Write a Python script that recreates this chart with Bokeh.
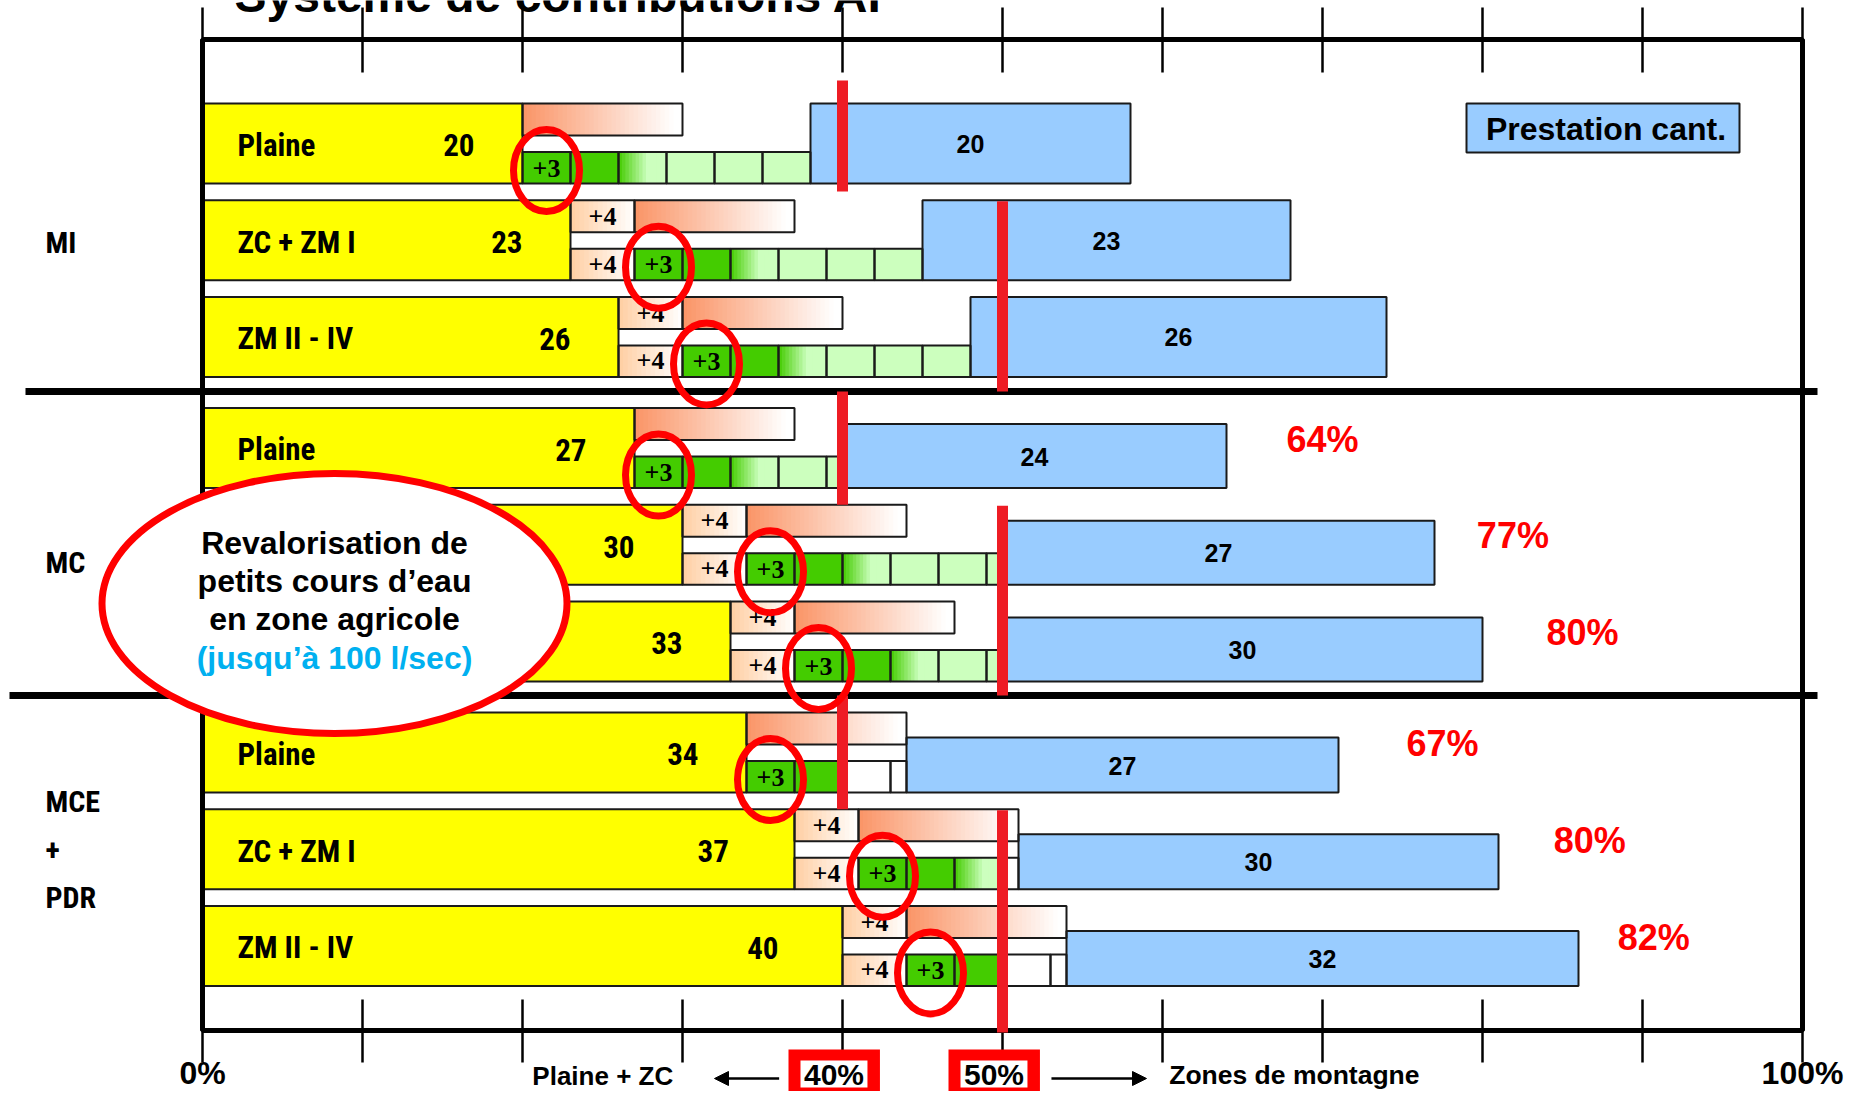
import subprocess
from bokeh.plotting import figure
from bokeh.models import Range1d, Arrow, NormalHead
from bokeh.core.properties import value
from bokeh.embed import file_html
from bokeh.resources import INLINE

# ------------------------------------------------------------------ data
title = "Système de contributions AI"
group_label_lines = [["MI"], ["MC"], ["MCE", "+", "PDR"]]
row_group = [0, 0, 0, 1, 1, 1, 2, 2, 2]
row_zone = ["Plaine", "ZC + ZM I", "ZM II - IV",
            "Plaine", "ZC + ZM I", "ZM II - IV",
            "Plaine", "ZC + ZM I", "ZM II - IV"]
base_contrib = [20, 23, 26, 27, 30, 33, 34, 37, 40]
zone_bonus = [0, 4, 4, 0, 4, 4, 0, 4, 4]
river_bonus = [3, 3, 3, 3, 3, 3, 3, 3, 3]
extra_range = [10, 10, 10, 10, 10, 10, 10, 10, 10]
green_end = [38, 45, 48, 40, 50, 50, 40, 50, 50]
cant_start = [38, 45, 48, 40, 50, 50, 44, 51, 54]
cant_value = [20, 23, 26, 24, 27, 30, 27, 30, 32]
cant_pct = ["", "", "", "64%", "77%", "80%", "67%", "80%", "82%"]
thresholds = [40, 50]
threshold_sides = ["Plaine + ZC", "Zones de montagne"]
x_ticks = [0, 10, 20, 30, 40, 50, 60, 70, 80, 90, 100]
x_tick_labels = ["0%", "", "", "", "", "", "", "", "", "", "100%"]
legend_label = "Prestation cant."
note_lines = ["Revalorisation de", "petits cours d\u2019eau", "en zone agricole"]
note_last = "(jusqu\u2019\u00e0 100 l/sec)"

# ------------------------------------------------------------------ fonts
def font_families():
    try:
        out = subprocess.run(["fc-list", ":", "family"], capture_output=True,
                             text=True, timeout=20).stdout
    except Exception:
        return set()
    fams = set()
    for line in out.splitlines():
        for f in line.split(","):
            fams.add(f.strip().lower())
    return fams

FAMS = font_families()
SANS = "Liberation Sans"
SERIF = "Liberation Serif"
NARROW, NSCALE = SANS, 0.84
for cand, sc in [("Liberation Sans Narrow", 1.0), ("Arial Narrow", 1.0),
                 ("Roboto Condensed", 1.0), ("DejaVu Sans Condensed", 0.86)]:
    if cand.lower() in FAMS:
        NARROW, NSCALE = cand, sc
        break

# ------------------------------------------------------------------ layout / style
W, H = 1845, 1091
X0, PPU = 202.0, 16.0


def ux(px):
    return (px - X0) / PPU


YELLOW = "#FFFF00"
BLUE = "#99CCFF"
DKGREEN = (68, 204, 0)
LTGREEN = (204, 255, 190)
SALMON = (250, 148, 102)
PEACH = (255, 206, 162)
WHITE = (255, 255, 255)
RED_LINE = "#EE1C24"
RED = "#FF0000"
CYAN = "#00B0F0"
OUT = "#1a1a1a"

GROUP_TOP = [103.0, 407.5, 712.0]
ROW_STEP = 96.7
ROW_H = 80.0
TOP_H = 32.0
BOT_Y0 = 48.5
BLUE_OFF = [0.0, 16.0, 25.0]
SEP_Y = [391.0, 695.0]
SEP_X0 = [25.0, 9.0]
SEP_X1 = 1817.0
FRAME_T, FRAME_B = 39.0, 1030.0
value_pad = [3, 3, 3, 3, 3, 3, 3, 4.1, 4.0]
pct_dx = [0, 0, 0, 6.0, 4.9, 6.25, 6.5, 5.7, 4.7]
group_label_base = [[252.7], [572.6], [811.6, 859.3, 907.0]]

row_top = []
for i, g in enumerate(row_group):
    r = i - row_group.index(g)
    row_top.append(GROUP_TOP[g] + r * ROW_STEP)


def hexc(c):
    return "#%02x%02x%02x" % tuple(int(round(v)) for v in c)


def mix(c0, c1, t):
    return hexc(tuple(a + (b - a) * t for a, b in zip(c0, c1)))


p = figure(width=W, height=H,
           x_range=Range1d(ux(0), ux(W)), y_range=Range1d(H, 0),
           output_backend="svg", toolbar_location=None, min_border=0,
           x_axis_type=None, y_axis_type=None, outline_line_color=None,
           background_fill_color="white", border_fill_color="white")
p.grid.visible = False

solid = dict(left=[], right=[], top=[], bottom=[], color=[])
strip = dict(left=[], right=[], top=[], bottom=[], color=[])
outl = dict(left=[], right=[], top=[], bottom=[])


def outline(l, r, t, b):
    outl["left"].append(l); outl["right"].append(r)
    outl["top"].append(t); outl["bottom"].append(b)


def box(l, r, t, b, color):
    solid["left"].append(l); solid["right"].append(r)
    solid["top"].append(t); solid["bottom"].append(b)
    solid["color"].append(color)
    outline(l, r, t, b)


def gradbox(l, r, t, b, c0, c1, n, reach=1.0):
    w = (r - l) / n
    for k in range(n):
        u = min(1.0, ((k + 0.5) / n) / reach)
        strip["left"].append(l + k * w)
        strip["right"].append(min(r, l + (k + 1.7) * w))
        strip["top"].append(t); strip["bottom"].append(b)
        strip["color"].append(mix(c0, c1, u))
    outline(l, r, t, b)


for i in range(9):
    T = row_top[i]
    g = row_group[i]
    b0 = base_contrib[i]
    box(0, b0, T, T + ROW_H, YELLOW)
    # upper sub-bar
    x = b0
    if zone_bonus[i]:
        gradbox(x, x + zone_bonus[i], T, T + TOP_H, PEACH, WHITE, 14)
        x += zone_bonus[i]
    gradbox(x, x + extra_range[i], T, T + TOP_H, SALMON, WHITE, 36, 0.95)
    # lower sub-bar
    yb0, yb1 = T + BOT_Y0, T + ROW_H
    x = b0
    if zone_bonus[i]:
        gradbox(x, x + zone_bonus[i], yb0, yb1, PEACH, WHITE, 14)
        x += zone_bonus[i]
    box(x, x + river_bonus[i], yb0, yb1, hexc(DKGREEN))
    x += river_bonus[i]
    k = 0
    while x < green_end[i] - 1e-9:
        e = min(x + 3, green_end[i])
        if k == 0:
            box(x, e, yb0, yb1, hexc(DKGREEN))
        elif k == 1:
            gradbox(x, e, yb0, yb1, DKGREEN, LTGREEN, 14, 0.6)
        else:
            box(x, e, yb0, yb1, hexc(LTGREEN))
        x = e
        k += 1
    while x < cant_start[i] - 1e-9:
        e = min(x + 3, cant_start[i])
        box(x, e, yb0, yb1, "#FFFFFF")
        x = e
    # cantonal contribution
    box(cant_start[i], cant_start[i] + cant_value[i], T + BLUE_OFF[g], T + ROW_H, BLUE)

p.quad(left="left", right="right", top="top", bottom="bottom", fill_color="color",
       line_color=None, source=solid)
p.quad(left="left", right="right", top="top", bottom="bottom", fill_color="color",
       line_color=None, source=strip)
p.quad(left="left", right="right", top="top", bottom="bottom", fill_color=None,
       line_color=OUT, line_width=2, source=outl)


def txt(xs, ys, texts, font, size, style="bold", align="left", color="black"):
    # ys are wanted baselines; drawn with a centred box
    k = 0.338 if font == SERIF else 0.3465
    p.text(x=xs, y=[v - k * size for v in ys], text=texts, text_font=value(font),
           text_font_size=value("%.1fpx" % size), text_font_style=style,
           text_align=align, text_baseline="middle", text_color=color)


# row texts
txt([ux(237)] * 9, [t + 52.7 for t in row_top], row_zone, NARROW, 31 * NSCALE)
txt([base_contrib[i] - value_pad[i] for i in range(9)], [t + 52.7 for t in row_top],
    [str(v) for v in base_contrib], NARROW, 31 * NSCALE, align="right")
bx, by = [], []
for i in range(9):
    off = BLUE_OFF[row_group[i]]
    bx.append(cant_start[i] + cant_value[i] / 2.0)
    by.append(row_top[i] + off + (ROW_H - off) / 2.0 + 9.2)
txt(bx, by, [str(v) for v in cant_value], SANS, 25, align="center")
p3x = [base_contrib[i] + zone_bonus[i] + river_bonus[i] / 2.0 for i in range(9)]
txt(p3x, [t + 73.5 for t in row_top], ["+%d" % v for v in river_bonus], SERIF, 26,
    align="center")
p4i = [i for i in range(9) if zone_bonus[i]]
p4x = [base_contrib[i] + zone_bonus[i] / 2.0 for i in p4i]
txt(p4x, [row_top[i] + 25 for i in p4i], ["+%d" % zone_bonus[i] for i in p4i], SERIF, 26,
    align="center")
txt(p4x, [row_top[i] + 72.7 for i in p4i], ["+%d" % zone_bonus[i] for i in p4i], SERIF, 26,
    align="center")
pi = [i for i in range(9) if cant_pct[i]]
txt([cant_start[i] + cant_value[i] + pct_dx[i] for i in pi], [row_top[i] + 43.7 for i in pi],
    [cant_pct[i] for i in pi], SANS, 36, align="center", color=RED)

# group labels
gx, gy, gt = [], [], []
for g, lines in enumerate(group_label_lines):
    for s, yb in zip(lines, group_label_base[g]):
        gx.append(ux(45)); gy.append(yb); gt.append(s)
txt(gx, gy, gt, NARROW, 30 * NSCALE)

# ticks
tx0, ty0, tx1, ty1 = [], [], [], []
for xv in x_ticks:
    end = xv in (x_ticks[0], x_ticks[-1])
    tx0 += [xv, xv]; tx1 += [xv, xv]
    ty0 += [7, FRAME_B if end else 999]
    ty1 += [FRAME_T if end else 72, 1062]
p.segment(x0=tx0, y0=ty0, x1=tx1, y1=ty1, line_color="black", line_width=2.5)

# frame and group separators
p.quad(left=[0], right=[100], top=[FRAME_T], bottom=[FRAME_B], fill_color=None,
       line_color="black", line_width=5)
p.segment(x0=[ux(v) for v in SEP_X0], y0=SEP_Y, x1=[ux(SEP_X1)] * 2, y1=SEP_Y,
          line_color="black", line_width=7)

# threshold lines
sx, sy0, sy1 = [], [], []
for g in range(3):
    rows_g = [i for i in range(9) if row_group[i] == g]
    T0, T1 = row_top[rows_g[0]], row_top[rows_g[1]]
    sx += thresholds
    sy0 += [T0 - 23 if g == 0 else SEP_Y[g - 1], T1 + 1]
    sy1 += [T0 + 88 if g == 0 else T1, SEP_Y[g] if g < 2 else FRAME_B + 2]
p.segment(x0=sx, y0=sy0, x1=sx, y1=sy1, line_color=RED_LINE, line_width=11)

# red rings around the +3 cells
p.ellipse(x=p3x, y=[t + 67 for t in row_top], width=66, height=82,
          width_units="screen", height_units="screen", fill_color=None,
          line_color=RED, line_width=7)

# legend
p.quad(left=[ux(1466)], right=[ux(1739)], top=[103], bottom=[152], fill_color=BLUE,
       line_color=OUT, line_width=2)
txt([ux(1605.5)], [140], [legend_label], SANS, 32, align="center")

# big note ellipse
p.ellipse(x=[ux(334)], y=[603], width=465, height=260, width_units="screen",
          height_units="screen", fill_color="white", line_color=RED, line_width=7)
txt([ux(334)] * 3, [553.3, 591.6, 629.9], note_lines, SANS, 32, align="center")
txt([ux(334)], [668.2], [note_last], SANS, 32, align="center", color=CYAN)

# bottom annotations (kept inside the canvas)
txt([x_ticks[0], x_ticks[-1]], [1084, 1084], [x_tick_labels[0], x_tick_labels[-1]],
    SANS, 32, align="center")
for t in thresholds:
    p.quad(left=[t - 3.375], right=[t + 2.34], top=[1049], bottom=[1095],
           fill_color=RED, line_color=None)
    p.quad(left=[t - 2.625], right=[t + 1.56], top=[1060], bottom=[1087],
           fill_color="white", line_color=None)
txt([t - 0.53 for t in thresholds], [1084.5] * 2, ["%d%%" % t for t in thresholds],
    SANS, 30, align="center")
p.add_layout(Arrow(end=NormalHead(size=14, fill_color="black", line_color="black"),
                   x_start=thresholds[0] - 3.96, y_start=1078,
                   x_end=thresholds[0] - 8.0, y_end=1078,
                   line_color="black", line_width=2.5))
p.add_layout(Arrow(end=NormalHead(size=14, fill_color="black", line_color="black"),
                   x_start=thresholds[1] + 3.06, y_start=1078,
                   x_end=thresholds[1] + 9.0, y_end=1078,
                   line_color="black", line_width=2.5))
txt([thresholds[0] - 10.58], [1085], [threshold_sides[0]], SANS, 26, align="right")
txt([thresholds[1] + 10.42], [1084], [threshold_sides[1]], SANS, 26.5, align="left")

# title (cut by the top edge, as in the source)
txt([ux(234)], [12], [title], SANS, 48)

open("out.html", "w").write(file_html(p, INLINE))
